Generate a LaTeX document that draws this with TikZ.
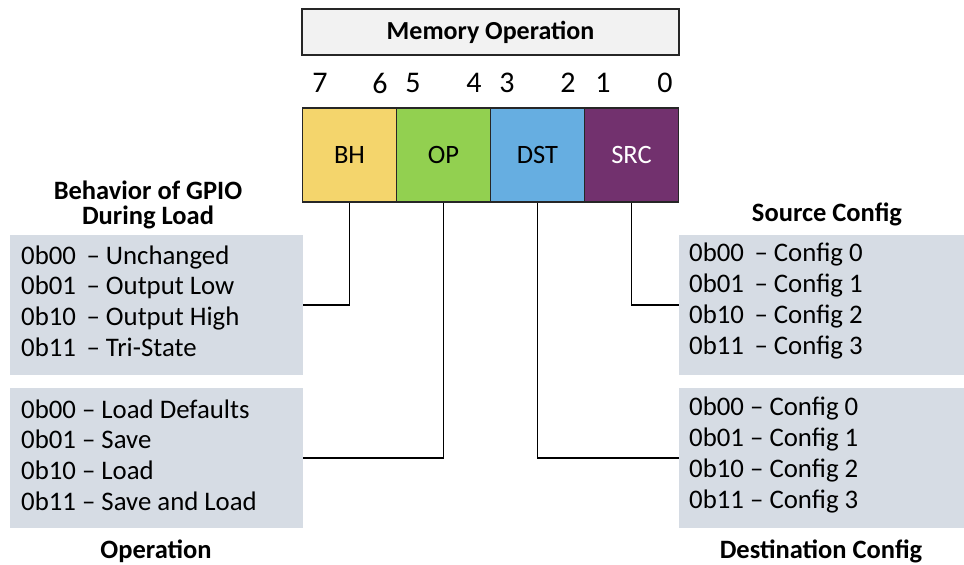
\documentclass[tikz,border=0pt]{standalone}
\usepackage{fontspec}
\setmainfont{Carlito}
\begin{document}
\begin{tikzpicture}[x=1pt,y=-1pt,
  txt/.style={font=\fontsize{26.8}{30.7}\selectfont, inner sep=0pt},
  bold/.style={txt, font=\fontsize{26.5}{25}\selectfont\bfseries, align=center},
  bitnum/.style={inner sep=0pt, font=\fontsize{30}{30}\selectfont},
  field/.style={draw=black!85, line width=1.6pt, minimum width=94pt, minimum height=94pt,
    inner sep=0pt, font=\fontsize{26.5}{26.5}\selectfont},
  listbox/.style={fill=listgray, inner sep=0pt, minimum height=140pt},
  listtxt/.style={txt, align=left, anchor=west},
  wire/.style={line width=1.6pt, black}]
\definecolor{listgray}{HTML}{D6DCE4}
\definecolor{bhyellow}{HTML}{F4D56C}
\definecolor{opgreen}{HTML}{92D050}
\definecolor{dstblue}{HTML}{66AEE1}
\definecolor{srcpurple}{HTML}{72316E}
\useasboundingbox (0,0) rectangle (964,565);

% register title
\node[draw=black!85, line width=1.6pt, fill=black!5, minimum width=377pt, minimum height=46pt,
  inner sep=0pt, font=\fontsize{26}{26}\selectfont\bfseries] (title) at (490.5,32) {Memory Operation};

% bit numbers
\node[bitnum] (b7) at (320,83) {7};
\node[bitnum] (b6) at (380,83) {6};
\node[bitnum] (b5) at (413,83) {5};
\node[bitnum] (b4) at (474,83) {4};
\node[bitnum] (b3) at (507,83) {3};
\node[bitnum] (b2) at (568,83) {2};
\node[bitnum] (b1) at (603,83) {1};
\node[bitnum] (b0) at (665,83) {0};

% bit fields
\node[field, fill=bhyellow] (bh) at (349.5,155) {BH};
\node[field, fill=opgreen] (op) at (443.5,155) {OP};
\node[field, fill=dstblue] (dst) at (537.5,155) {DST};
\node[field, fill=srcpurple, text=white] (src) at (631.5,155) {SRC};

% value tables
\node[listbox, minimum width=293pt] (gpio) at (156.5,305) {};
\node[listbox, minimum width=293pt] (oper) at (156.5,458) {};
\node[listbox, minimum width=286pt] (srccfg) at (822,305) {};
\node[listbox, minimum width=286pt] (dstcfg) at (822,458) {};

\node[listtxt] (gpiotxt) at (21,301) {0b00\, – Unchanged\\0b01\, – Output Low\\0b10\, – Output High\\0b11\, – Tri-State};
\node[listtxt] (opertxt) at (21,455) {0b00 – Load Defaults\\0b01 – Save\\0b10 – Load\\0b11 – Save and Load};
\node[listtxt] (srctxt) at (689,301) {0b00\, – Config 0\\0b01\, – Config 1\\0b10\, – Config 2\\0b11\, – Config 3};
\node[listtxt] (dsttxt) at (689,455) {0b00 – Config 0\\0b01 – Config 1\\0b10 – Config 2\\0b11 – Config 3};

% table captions
\node[bold] (gpiocap) at (148,205) {Behavior of GPIO\\During Load};
\node[bold] (srccap) at (827,214) {Source Config};
\node[bold] (opercap) at (156,551) {Operation};
\node[bold] (dstcap) at (821,551) {Destination Config};

% connectors
\draw[wire] (bh.south) |- (gpio.east);
\draw[wire] (op.south) |- (oper.east);
\draw[wire] (dst.south) |- (dstcfg.west);
\draw[wire] (src.south) |- (srccfg.west);
\end{tikzpicture}
\end{document}
